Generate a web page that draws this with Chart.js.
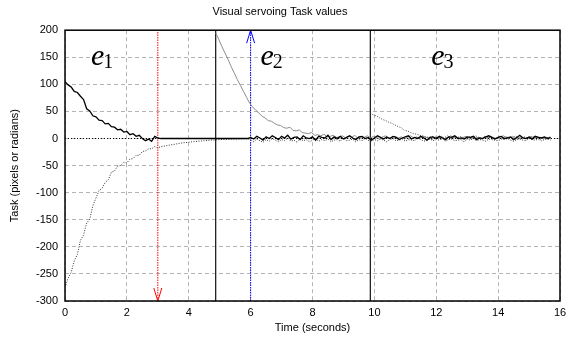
<!DOCTYPE html>
<html lang="en">
<head>
    <meta charset="UTF-8">
    <script src="https://cdn.jsdelivr.net/npm/chart.js@4.4.0/dist/chart.umd.min.js"></script>
    <title>Visual servoing Task values</title>
    <style>
        html, body { margin: 0; padding: 0; overflow: hidden; background: #fff; }
        .canvas-container { position: relative; width: 576px; height: 341px; }
    </style>
</head>
<body>
    <div class="canvas-container">
        <canvas id="myChart" width="576" height="341"></canvas>
    </div>

    <script>
        // sample step of the recorded task values (seconds)
        var dt = 0.1;

        // task e1, first component (solid black), starts at t = 0
        var e1aStart = 0;
        var e1aValues = [105,99,95,87,85,78,72,55,51,42,40,34,33,27,28,22,21,16,17,12,13,7,9,4,6,0,-4,-1,-5,4,1,
            0,0,0,0,0,0,0,0,0,0,0,0,0,0,0,0,0,0,0,0,0,0,0,0,0,0,0,0,0,
            2,-1,4,1,-3,3,0,5,2,-2,4,1,6,-1,2,3,-2,5,1,0,
            3,-3,4,2,1,6,-2,3,0,4,-1,2,5,1,-2,3,4,0,2,-3,
            1,5,2,-1,3,0,4,2,-2,1,3,5,-1,2,0,4,1,-3,2,3,
            0,4,1,-2,3,2,5,0,1,-1,3,2,4,-2,1,0,3,5,2,-1,
            2,4,0,1,3,-2,2,6,1,0,3,-1,4,2,1,3,0,2];

        // task e1, second component (dotted), starts at t = 0
        var e1bStart = 0;
        var e1bValues = [-275,-258,-247,-226,-214,-188,-178,-156,-149,-124,-110,-96,-92,-81,-76,-62,-60,-51,-50,-44,-45,-38,-37,-31,-31,-24,-23,-19,-19,-15,-17,
            -15,-14,-13,-12,-11,-10,-9,-8,-7.5,-7,-6,-5.5,-5,-4.5,-4,-3.5,-3,-2.7,-2.4,-2,-1.8,-1.5,-1.3,-1.1,-1,-0.8,-0.6,-0.5,-0.4,
            -3,-6,-1,-4,-7,-2,-5,0,-3,-6,-2,-4,1,-5,-3,-7,-1,-4,-2,-6,
            -3,0,-5,-2,-4,-1,-6,-3,-2,-5,1,-4,-3,-1,-6,-2,-4,0,-3,-5,
            -2,-4,-1,-3,-6,-2,0,-4,-3,-1,-5,-2,-3,-4,1,-2,-5,-3,-1,-4,
            -2,-3,0,-5,-2,-1,-4,-3,-2,-6,-1,-3,0,-4,-2,-3,-5,-1,-2,-3,
            -4,-1,-2,0,-3,-5,-2,-1,-3,-4,0,-2,-3,-1,-4,-2,-1,-3];

        // task e2 (solid grey), starts at the first switch
        var e2Start = 4.87;
        var e2Values = [195,183,170,158,146,133,121,109,98,87,
            76,65,58,52,47,41,38,33,32,28,
            25,24,20,19,21,15,14,16,11,10,
            9,11,6,7,5,8,3,4,6,2,
            3,5,1,4,2,6,0,3,2,5,
            1,4,2,-1,3,5,0,2,4,1,
            3,-1,2,5,1,3,0,4,2,1,
            -2,3,1,4,0,2,5,1,3,-1,
            2,4,0,3,1,2,-1,4,2,3,
            1,0,3,5,2,1,4,-1,2,3,
            0,2,4,1,3,2,0,1,3];

        // task e3 (dotted), starts at the second switch
        var e3Start = 9.87;
        var e3Values = [47,43,42,38,35,33,30,28,25,22,
            20,15,14,11,9,8,6,5,3,2,
            4,1,3,-1,2,5,0,3,1,4,
            2,-1,3,1,5,2,0,4,1,3,
            -1,2,4,0,3,1,2,5,-1,2,
            3,0,1,4,2,-1,3,1,2];

        // task switch times and event markers
        var switchTimes = [4.87, 9.87];
        var downArrowTime = 3;
        var upArrowTime = 6;

        // region labels
        var regionNames = ['e', 'e', 'e'];
        var regionSubs = ['1', '2', '3'];
        var regionTimes = [0.84, 6.32, 11.84];
        var regionLevel = 135;

        var yMin = -300, yMax = 200, yStep = 50;
        var xMin = 0, xMax = 16, xStep = 2;

        function toPoints(start, values) {
            return values.map(function (v, i) {
                return { x: Math.round((start + i * dt) * 100) / 100, y: v };
            });
        }

        function vline(t) {
            return [{ x: t, y: yMin }, { x: t, y: yMax }];
        }

        var datasets = [
            { data: toPoints(e1aStart, e1aValues), borderColor: '#000', borderWidth: 1.3, order: 0 },
            { data: toPoints(e1bStart, e1bValues), borderColor: '#333', borderWidth: 1, borderDash: [1, 1.5], order: 1 },
            { data: toPoints(e2Start, e2Values), borderColor: '#8c8c8c', borderWidth: 1, order: 3 },
            { data: toPoints(e3Start, e3Values), borderColor: '#444', borderWidth: 1, borderDash: [1, 1.5], order: 2 },
            { data: [{ x: xMin, y: 0 }, { x: xMax, y: 0 }], borderColor: '#000', borderWidth: 1, borderDash: [1, 2], order: 4 },
            { data: vline(downArrowTime), borderColor: '#ff0000', borderWidth: 1, borderDash: [1.5, 1], order: 5 },
            { data: vline(upArrowTime), borderColor: '#0000ff', borderWidth: 1, borderDash: [1.5, 1], order: 5 }
        ];
        switchTimes.forEach(function (t) {
            datasets.push({ data: vline(t), borderColor: '#222', borderWidth: 1.3, order: 5 });
        });

        // frame, arrow heads and region labels
        var decorations = {
            id: 'decorations',
            afterDatasetsDraw: function (chart) {
                var ctx = chart.ctx;
                var a = chart.chartArea;
                var xs = chart.scales.x, ys = chart.scales.y;
                ctx.save();

                // down arrow head (red) at the bottom
                var xd = xs.getPixelForValue(downArrowTime), yb = ys.getPixelForValue(yMin);
                ctx.strokeStyle = '#ff0000';
                ctx.lineWidth = 1;
                ctx.beginPath();
                ctx.moveTo(xd - 4, yb - 13);
                ctx.lineTo(xd, yb);
                ctx.lineTo(xd + 4, yb - 13);
                ctx.stroke();

                // up arrow head (blue) at the top
                var xu = xs.getPixelForValue(upArrowTime), yt = ys.getPixelForValue(yMax);
                ctx.strokeStyle = '#0000ff';
                ctx.beginPath();
                ctx.moveTo(xu - 4, yt + 13);
                ctx.lineTo(xu, yt);
                ctx.lineTo(xu + 4, yt + 13);
                ctx.stroke();

                // frame
                ctx.strokeStyle = '#000';
                ctx.lineWidth = 1.5;
                ctx.strokeRect(a.left, a.top, a.right - a.left, a.bottom - a.top);

                // region labels e1, e2, e3
                ctx.fillStyle = '#000';
                ctx.textBaseline = 'alphabetic';
                ctx.textAlign = 'left';
                for (var i = 0; i < regionNames.length; i++) {
                    var px = xs.getPixelForValue(regionTimes[i]);
                    var py = ys.getPixelForValue(regionLevel);
                    ctx.font = 'italic 30px "Liberation Serif", "DejaVu Serif", serif';
                    ctx.fillText(regionNames[i], px, py);
                    var w = ctx.measureText(regionNames[i]).width;
                    ctx.font = '20px "Liberation Serif", "DejaVu Serif", serif';
                    ctx.fillText(regionSubs[i], px + w - 1, py + 3);
                }
                ctx.restore();
            }
        };

        var ctx = document.getElementById('myChart').getContext('2d');
        var tickFont = { family: '"Liberation Sans", Arial, sans-serif', size: 11 };

        var myChart = new Chart(ctx, {
            type: 'line',
            data: { datasets: datasets },
            options: {
                responsive: false,
                animation: false,
                devicePixelRatio: 1,
                layout: { autoPadding: false, padding: { left: 0, right: 16, top: 0, bottom: 0 } },
                elements: {
                    point: { radius: 0 },
                    line: { tension: 0, fill: false }
                },
                plugins: {
                    legend: { display: false },
                    tooltip: { enabled: false },
                    title: {
                        display: true,
                        text: 'Visual servoing Task values',
                        color: '#000',
                        font: { family: '"Liberation Sans", Arial, sans-serif', size: 11, weight: 'normal' },
                        padding: { top: 5, bottom: 12 }
                    }
                },
                scales: {
                    x: {
                        type: 'linear',
                        min: xMin,
                        max: xMax,
                        afterFit: function (scale) { scale.height = 40; },
                        ticks: { stepSize: xStep, color: '#000', font: tickFont, padding: 5, maxRotation: 0 },
                        grid: { color: '#b4b4b4', drawTicks: false, lineWidth: 1 },
                        border: { display: false, dash: [4, 3] },
                        title: { display: true, text: 'Time (seconds)', color: '#000', font: tickFont, padding: { top: 0, bottom: 6 } }
                    },
                    y: {
                        min: yMin,
                        max: yMax,
                        afterFit: function (scale) { scale.width = 65; },
                        ticks: { stepSize: yStep, color: '#000', font: tickFont, padding: 7, autoSkip: false },
                        grid: { color: '#b4b4b4', drawTicks: false, lineWidth: 1 },
                        border: { display: false, dash: [4, 3] },
                        title: { display: true, text: 'Task (pixels or radians)', color: '#000', font: tickFont, padding: { top: 8, bottom: 0 } }
                    }
                }
            },
            plugins: [decorations]
        });
    </script>
</body>
</html>
